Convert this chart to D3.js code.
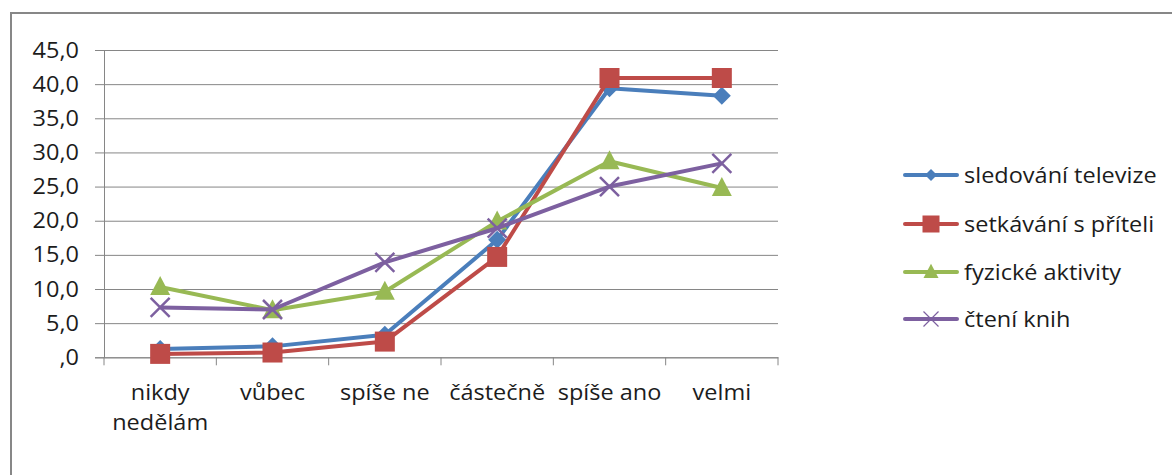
<!DOCTYPE html>
<html>
<head>
<meta charset="utf-8">
<script src="https://d3js.org/d3.v7.min.js"></script>
<style>
  body { margin: 0; background: #fff; }
  text { font-family: "Open Sans", "Liberation Sans", sans-serif; fill: #1c1c1c; }
</style>
</head>
<body>
<script>
// categories on the x axis (label lines)
var categories = [["nikdy", "nedělám"], ["vůbec"], ["spíše ne"], ["částečně"], ["spíše ano"], ["velmi"]];
var seriesNames = ["sledování televize", "setkávání s příteli", "fyzické aktivity", "čtení knih"];
var tvValues = [1.2, 1.6, 3.3, 17.2, 39.4, 38.3];
var friendsValues = [0.5, 0.7, 2.3, 14.7, 40.9, 40.9];
var sportValues = [10.3, 6.9, 9.6, 19.9, 28.7, 24.8];
var booksValues = [7.3, 7.0, 13.9, 18.9, 25.0, 28.4];
var yTicks = [0, 5, 10, 15, 20, 25, 30, 35, 40, 45];

var W = 1172, H = 475;
var STRETCH = 1.12; // text in the original is a bit wider than Open Sans
var svg = d3.select("body").append("svg").attr("width", W).attr("height", H);

// chart frame
svg.append("rect").attr("x", 11).attr("y", 13).attr("width", W + 20).attr("height", H + 20)
  .attr("fill", "none").attr("stroke", "#878787").attr("stroke-width", 2);

var x = d3.scaleBand().domain(d3.range(categories.length)).range([104, 778]);
var y = d3.scaleLinear().domain([0, 45]).range([357.3, 50]);

var fmt = function (v) { return v === 0 ? ",0" : d3.format(".1f")(v).replace(".", ","); };

function label(px, py, str, anchor) {
  return svg.append("text")
    .attr("transform", "translate(" + px + "," + py + ") scale(" + STRETCH + ",1)")
    .attr("text-anchor", anchor).attr("font-size", 21).text(str);
}

// gridlines + y axis
var yAxis = svg.append("g").attr("transform", "translate(104,0)")
  .call(d3.axisLeft(y).tickValues(yTicks).tickSize(9).tickFormat(""));
yAxis.select(".domain").attr("stroke", "#868686");
yAxis.selectAll(".tick line").attr("stroke", "#868686").attr("x2", 778 - 104).attr("x1", -9);
yTicks.forEach(function (v) { label(79, y(v) + 7.5, fmt(v), "end"); });

// x axis
var xAxis = svg.append("g").attr("transform", "translate(0," + y(0) + ")")
  .call(d3.axisBottom(x).tickSize(0).tickFormat(""));
xAxis.select(".domain").attr("stroke", "#868686");
xAxis.selectAll(".tick").remove();
var edges = d3.range(categories.length + 1).map(function (i) { return i < categories.length ? x(i) : x(i - 1) + x.bandwidth(); });
xAxis.selectAll("line.edge").data(edges).enter().append("line")
  .attr("x1", function (d) { return d; }).attr("x2", function (d) { return d; })
  .attr("y1", 0).attr("y2", 8).attr("stroke", "#868686");
categories.forEach(function (lines, i) {
  lines.forEach(function (l, j) {
    label(x(i) + x.bandwidth() / 2, 400 + j * 30, l, "middle");
  });
});

var series = [
  { name: seriesNames[0], values: tvValues, color: "#4A7EBB", marker: "diamond" },
  { name: seriesNames[1], values: friendsValues, color: "#BE4B48", marker: "square" },
  { name: seriesNames[2], values: sportValues, color: "#98B954", marker: "triangle" },
  { name: seriesNames[3], values: booksValues, color: "#7D60A0", marker: "cross" }
];

function drawMarker(g, type, cx, cy, s, color, strokeW) {
  if (type === "diamond") {
    g.append("path").attr("d", "M" + cx + "," + (cy - s / 2) + "L" + (cx + s / 2) + "," + cy + "L" + cx + "," + (cy + s / 2) + "L" + (cx - s / 2) + "," + cy + "Z")
      .attr("fill", color);
  } else if (type === "square") {
    g.append("rect").attr("x", cx - s / 2).attr("y", cy - s / 2).attr("width", s).attr("height", s).attr("fill", color);
  } else if (type === "triangle") {
    g.append("path").attr("d", "M" + cx + "," + (cy - s * 0.55) + "L" + (cx + s / 2) + "," + (cy + s * 0.4) + "L" + (cx - s / 2) + "," + (cy + s * 0.4) + "Z")
      .attr("fill", color);
  } else {
    var h = s / 2;
    g.append("path").attr("d", "M" + (cx - h) + "," + (cy - h) + "L" + (cx + h) + "," + (cy + h) + "M" + (cx + h) + "," + (cy - h) + "L" + (cx - h) + "," + (cy + h))
      .attr("stroke", color).attr("stroke-width", strokeW);
  }
}

var line = d3.line().x(function (d, i) { return x(i) + x.bandwidth() / 2; }).y(function (d) { return y(d); });
var sizes = { diamond: 18, square: 20, triangle: 20, cross: 19 };

series.forEach(function (s) {
  var g = svg.append("g");
  g.append("path").datum(s.values).attr("d", line).attr("fill", "none")
    .attr("stroke", s.color).attr("stroke-width", 4).attr("stroke-linejoin", "round");
  s.values.forEach(function (v, i) {
    drawMarker(g, s.marker, x(i) + x.bandwidth() / 2, y(v), sizes[s.marker], s.color, 2.5);
  });
});

// legend
var legY = [175, 224, 272, 319];
var legSizes = { diamond: 12, square: 17, triangle: 15, cross: 15 };
series.forEach(function (s, i) {
  var g = svg.append("g");
  g.append("line").attr("x1", 905).attr("x2", 957).attr("y1", legY[i]).attr("y2", legY[i])
    .attr("stroke", s.color).attr("stroke-width", 4).attr("stroke-linecap", "round");
  drawMarker(g, s.marker, 931, legY[i], legSizes[s.marker], s.color, 1.2);
  svg.append("text")
    .attr("transform", "translate(964," + (legY[i] + 8) + ") scale(" + STRETCH + ",1)")
    .attr("font-size", 21).text(s.name);
});
</script>
</body>
</html>
